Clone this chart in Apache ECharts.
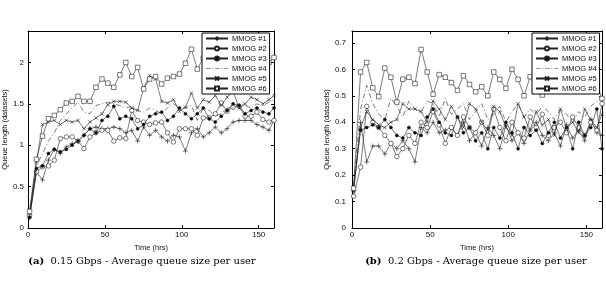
<!DOCTYPE html>
<html>
<head>
<meta charset="utf-8">
<script src="https://cdn.jsdelivr.net/npm/echarts@6/dist/echarts.min.js"></script>
<style>
  html, body { margin: 0; padding: 0; background: #fff; }
  #chart { width: 606px; height: 283px; }
</style>
</head>
<body>
<div id="chart"></div>
<script>
"use strict";

// time axis (hrs), shared by both panels
var hours = [1, 5.5, 9.4, 13.3, 17.1, 21, 24.9, 28.7, 32.5, 36.4, 40.3, 44.2, 48.1, 51.9, 55.8, 59.7,
  63.6, 67.5, 71.3, 75.2, 79.1, 83, 86.9, 90.7, 94.6, 98.5, 102.4, 106.3, 110.1, 114, 117.9, 121.8,
  125.7, 129.5, 133.4, 137.3, 141.2, 145.1, 148.9, 152.8, 156.7, 160];

var names = ["MMOG #1", "MMOG #2", "MMOG #3", "MMOG #4", "MMOG #5", "MMOG #6"];

// (a) 0.15 Gbps
var a1 = [0.12, 0.68, 0.58, 0.82, 0.95, 0.90, 0.98, 1.02, 1.05, 1.12, 1.20, 1.22, 1.20, 1.20, 1.22, 1.20,
  1.15, 1.18, 1.05, 1.22, 1.12, 1.18, 1.10, 1.05, 1.12, 1.10, 0.93, 1.15, 1.20, 1.10, 1.15, 1.22,
  1.15, 1.20, 1.28, 1.30, 1.30, 1.30, 1.25, 1.22, 1.18, 1.30];
var a2 = [0.15, 0.68, 0.74, 0.75, 0.82, 1.08, 1.10, 1.10, 1.05, 0.96, 1.10, 1.15, 1.18, 1.18, 1.05, 1.09,
  1.08, 1.42, 1.30, 1.28, 1.25, 1.27, 1.28, 1.15, 1.04, 1.20, 1.20, 1.20, 1.12, 1.33, 1.33, 1.38,
  1.51, 1.41, 1.46, 1.47, 1.35, 1.35, 1.40, 1.31, 1.28, 1.30];
var a3 = [0.13, 0.72, 0.75, 0.90, 0.95, 0.92, 0.95, 1.00, 1.05, 1.12, 1.20, 1.15, 1.30, 1.35, 1.47, 1.32,
  1.35, 1.32, 1.20, 1.25, 1.35, 1.38, 1.40, 1.30, 1.35, 1.45, 1.38, 1.32, 1.38, 1.45, 1.32, 1.28,
  1.35, 1.42, 1.50, 1.48, 1.38, 1.42, 1.45, 1.40, 1.38, 1.45];
var a4 = [0.15, 0.75, 0.90, 1.05, 1.15, 1.30, 1.38, 1.45, 1.52, 1.40, 1.38, 1.48, 1.50, 1.52, 1.50, 1.48,
  1.45, 1.47, 1.42, 1.40, 1.45, 1.42, 1.38, 1.45, 1.50, 1.45, 1.45, 1.48, 1.30, 1.45, 1.42, 1.35,
  1.38, 1.45, 1.45, 1.50, 1.48, 1.45, 1.50, 1.48, 1.52, 1.55];
var a5 = [0.18, 0.80, 1.25, 1.28, 1.30, 1.25, 1.30, 1.28, 1.30, 1.20, 1.28, 1.33, 1.38, 1.49, 1.53, 1.53,
  1.52, 1.45, 1.42, 1.69, 1.84, 1.80, 1.53, 1.51, 1.55, 1.41, 1.46, 1.63, 1.45, 1.55, 1.52, 1.60,
  1.48, 1.58, 1.65, 1.45, 1.50, 1.58, 1.55, 1.50, 1.55, 1.60];
var a6 = [0.20, 0.83, 1.11, 1.32, 1.36, 1.43, 1.51, 1.53, 1.59, 1.53, 1.53, 1.70, 1.80, 1.75, 1.70, 1.85,
  2.00, 1.83, 1.94, 1.68, 1.80, 1.83, 1.74, 1.81, 1.83, 1.86, 1.99, 2.16, 1.92, 2.05, 1.98, 2.10,
  2.05, 1.95, 2.10, 2.15, 2.00, 2.08, 2.12, 2.05, 2.00, 2.06];

// (b) 0.2 Gbps
var b1 = [0.14, 0.40, 0.25, 0.31, 0.31, 0.28, 0.32, 0.30, 0.33, 0.30, 0.25, 0.38, 0.36, 0.40, 0.36, 0.37,
  0.38, 0.35, 0.40, 0.33, 0.36, 0.31, 0.38, 0.35, 0.30, 0.39, 0.33, 0.36, 0.32, 0.37, 0.40, 0.35,
  0.33, 0.36, 0.31, 0.39, 0.34, 0.37, 0.33, 0.41, 0.36, 0.35];
var b2 = [0.12, 0.23, 0.46, 0.40, 0.38, 0.35, 0.32, 0.27, 0.30, 0.35, 0.32, 0.40, 0.38, 0.44, 0.39, 0.32,
  0.38, 0.35, 0.42, 0.38, 0.36, 0.40, 0.35, 0.45, 0.38, 0.33, 0.40, 0.36, 0.34, 0.42, 0.38, 0.43,
  0.35, 0.38, 0.40, 0.36, 0.42, 0.38, 0.35, 0.40, 0.37, 0.47];
var b3 = [0.15, 0.37, 0.38, 0.39, 0.38, 0.41, 0.38, 0.35, 0.34, 0.38, 0.36, 0.35, 0.42, 0.45, 0.40, 0.36,
  0.35, 0.42, 0.36, 0.38, 0.33, 0.36, 0.30, 0.38, 0.34, 0.40, 0.36, 0.30, 0.38, 0.35, 0.37, 0.32,
  0.36, 0.40, 0.34, 0.38, 0.30, 0.40, 0.35, 0.38, 0.45, 0.30];
var b4 = [0.16, 0.45, 0.54, 0.47, 0.43, 0.41, 0.49, 0.46, 0.42, 0.48, 0.45, 0.44, 0.48, 0.47, 0.42, 0.49,
  0.43, 0.45, 0.47, 0.41, 0.44, 0.47, 0.41, 0.43, 0.46, 0.40, 0.44, 0.47, 0.42, 0.45, 0.43, 0.46,
  0.44, 0.41, 0.45, 0.43, 0.40, 0.44, 0.42, 0.46, 0.48, 0.50];
var b5 = [0.14, 0.38, 0.44, 0.41, 0.39, 0.38, 0.40, 0.41, 0.47, 0.45, 0.45, 0.44, 0.40, 0.48, 0.45, 0.41,
  0.46, 0.42, 0.38, 0.47, 0.45, 0.40, 0.37, 0.46, 0.44, 0.38, 0.35, 0.47, 0.42, 0.37, 0.44, 0.39,
  0.41, 0.35, 0.45, 0.38, 0.40, 0.36, 0.45, 0.41, 0.38, 0.43];
var b6 = [0.15, 0.59, 0.626, 0.53, 0.497, 0.605, 0.57, 0.476, 0.563, 0.57, 0.546, 0.675, 0.59, 0.506, 0.58, 0.57,
  0.55, 0.52, 0.576, 0.543, 0.515, 0.534, 0.50, 0.59, 0.562, 0.528, 0.60, 0.562, 0.50, 0.572, 0.553, 0.503,
  0.56, 0.60, 0.58, 0.62, 0.57, 0.55, 0.60, 0.57, 0.54, 0.49];

var FONT = "Liberation Sans";
var INK = "#111";

var PLUS = "path://M0,5L10,5M5,0L5,10";
var CROSS = "path://M0,0L10,10M10,0L0,10";
// dash-dot swatch for the legend entry of MMOG #4
var DASHDOT = "path://M0,0h6v1h-6z M8.5,0h1.5v1h-1.5z M12.5,0h6v1h-6z M21,0h1.5v1h-1.5z M25,0h5v1h-5z";

// marker / line style per MMOG
var styles = [
  { symbol: PLUS, size: 5, fill: "#fff", dash: "solid" },
  { symbol: "circle", size: 4.5, fill: "#fff", dash: "solid" },
  { symbol: "circle", size: 3, fill: "#000", dash: "solid" },
  { symbol: "none", size: 0, fill: "#fff", dash: [5, 2.5, 1, 2.5] },
  { symbol: CROSS, size: 3.5, fill: "#fff", dash: "solid" },
  { symbol: "rect", size: 4.5, fill: "#fff", dash: "solid" }
];

function pairs(vals) {
  return vals.map(function (v, i) { return [hours[i], v]; });
}

function makeSeries(sets, axisIdx) {
  return sets.map(function (vals, i) {
    var s = styles[i];
    return {
      name: names[i],
      type: "line",
      xAxisIndex: axisIdx,
      yAxisIndex: axisIdx,
      data: pairs(vals),
      symbol: s.symbol,
      symbolSize: s.size,
      showSymbol: s.symbol !== "none",
      animation: false,
      lineStyle: { color: "#222", width: 0.6, type: s.dash },
      itemStyle: { color: s.fill, borderColor: "#222", borderWidth: 0.6 },
      emphasis: { disabled: true },
      z: 2 + i
    };
  });
}

function xAx(grid, pos) {
  var main = pos === "bottom";
  return {
    type: "value", gridIndex: grid, position: pos, min: 0, max: 160, interval: 50,
    name: main ? "Time (hrs)" : "", nameLocation: "middle", nameGap: 11,
    nameTextStyle: { fontFamily: FONT, fontSize: 7.5, color: INK },
    axisLine: { show: true, onZero: false, lineStyle: { color: "#000", width: 1 } },
    axisTick: { show: true, inside: true, length: 3, lineStyle: { color: "#000" } },
    axisLabel: { show: main, fontFamily: FONT, fontSize: 8, color: INK, margin: 3, showMaxLabel: false },
    splitLine: { show: false }
  };
}

function yAx(grid, pos, max, step, gap, margin) {
  var main = pos === "left";
  return {
    type: "value", gridIndex: grid, position: pos, min: 0, max: max, interval: step,
    name: main ? "Queue length (datasets)" : "", nameLocation: "middle", nameGap: gap, nameRotate: 90,
    nameTextStyle: { fontFamily: FONT, fontSize: 7.5, color: INK },
    axisLine: { show: true, onZero: false, lineStyle: { color: "#000", width: 1 } },
    axisTick: { show: true, inside: true, length: 3, lineStyle: { color: "#000" } },
    axisLabel: { show: main, fontFamily: FONT, fontSize: 8, color: INK, margin: margin, showMaxLabel: false },
    splitLine: { show: false }
  };
}

function makeLegend(left) {
  return {
    data: names.map(function (n, i) {
      return i === 3 ? { name: n, icon: DASHDOT, itemStyle: { color: "#222", borderWidth: 0 } } : { name: n };
    }),
    orient: "vertical", left: left, top: 33,
    backgroundColor: "#fff", borderColor: "#000", borderWidth: 1, borderRadius: 0,
    padding: [1, 3, 1, 3], itemGap: 1, itemWidth: 22, itemHeight: 5,
    selectedMode: false,
    textStyle: { fontFamily: FONT, fontSize: 7.5, color: INK, lineHeight: 9, padding: [0, 0, 0, -1] },
    z: 10
  };
}

var chart = echarts.init(document.getElementById("chart"), null, { renderer: "canvas" });
chart.setOption({
  animation: false,
  backgroundColor: "#fff",
  grid: [
    { left: 23, top: 31, width: 251, height: 197, show: false },
    { left: 352, top: 31, width: 250, height: 197, show: false }
  ],
  xAxis: [xAx(0, "bottom"), xAx(0, "top"), xAx(1, "bottom"), xAx(1, "top")],
  yAxis: [yAx(0, "left", 2.38, 0.5, 13, 4), yAx(0, "right", 2.38, 0.5, 0, 0),
          yAx(1, "left", 0.745, 0.1, 16, 6), yAx(1, "right", 0.745, 0.1, 0, 0)],
  legend: [makeLegend(202), makeLegend(532)],
  series: makeSeries([a1, a2, a3, a4, a5, a6], 0).concat(makeSeries([b1, b2, b3, b4, b5, b6], 2)),
  graphic: [
    { type: "text", x: 142, y: 256, style: { text: "{b|(a)}  0.15 Gbps - Average queue size per user",
      fill: "#000", fontFamily: "DejaVu Serif", fontSize: 10, align: "center",
      rich: { b: { fontFamily: "DejaVu Serif", fontWeight: "bold", fontSize: 10 } } } },
    { type: "text", x: 476, y: 256, style: { text: "{b|(b)}  0.2 Gbps - Average queue size per user",
      fill: "#000", fontFamily: "DejaVu Serif", fontSize: 10, align: "center",
      rich: { b: { fontFamily: "DejaVu Serif", fontWeight: "bold", fontSize: 10 } } } }
  ]
});
</script>
</body>
</html>
